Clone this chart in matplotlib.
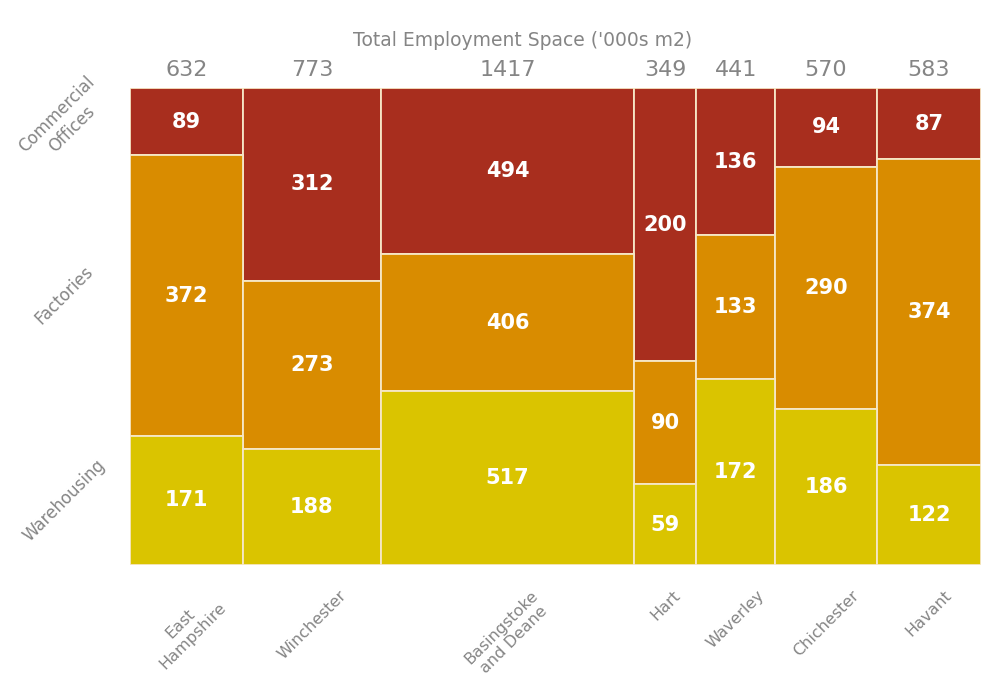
import numpy as np
import matplotlib.pyplot as plt

# employment floorspace by district, '000s m2
districts = ['East\nHampshire', 'Winchester', 'Basingstoke\nand Deane', 'Hart',
             'Waverley', 'Chichester', 'Havant']
offices = [89, 312, 494, 200, 136, 94, 87]
factories = [372, 273, 406, 90, 133, 290, 374]
warehousing = [171, 188, 517, 59, 172, 186, 122]
totals = [632, 773, 1417, 349, 441, 570, 583]

layers = ['Commercial\nOffices', 'Factories', 'Warehousing']
colors = ['#A82E1E', '#D98C00', '#DAC400']
grey = '#858585'

values = np.array([offices, factories, warehousing], dtype=float)
widths = np.array(totals, dtype=float)
lefts = np.concatenate([[0], np.cumsum(widths)[:-1]])
centers = lefts + widths / 2
shares = values / widths

fig = plt.figure(figsize=(9.82, 6.81), dpi=100)
ax = fig.add_axes([0.1324, 0.1703, 0.8666, 0.7005])

# stack from the top: offices first, warehousing at the bottom
top = np.ones(len(totals))
for i in range(3):
    bottom = top - shares[i]
    ax.bar(lefts, shares[i], width=widths, bottom=bottom, align='edge',
           color=colors[i], edgecolor='#F6E7C6', linewidth=1.3)
    for j in range(len(totals)):
        ax.text(centers[j], bottom[j] + shares[i][j] / 2, f'{int(values[i][j])}',
                ha='center', va='center', color='white', fontsize=15,
                fontweight='bold')
    # row labels on the left, next to the first column
    ax.text(-0.077, bottom[0] + shares[i][0] / 2, layers[i],
            transform=ax.get_yaxis_transform(), rotation=45, ha='center',
            va='center', color=grey, fontsize=12, multialignment='center')
    top = bottom

for j in range(len(totals)):
    ax.text(centers[j], 1.016, f'{totals[j]}', ha='center', va='bottom',
            color=grey, fontsize=16, transform=ax.get_xaxis_transform())
    ax.text(centers[j], -0.048, districts[j], ha='center', va='top',
            rotation=45, color=grey, fontsize=11.5, multialignment='center',
            linespacing=1.2, transform=ax.get_xaxis_transform())

ax.set_xlim(0, widths.sum())
ax.set_ylim(0, 1)
ax.axis('off')

fig.text(0.5325, 0.94, "Total Employment Space ('000s m2)", ha='center',
         va='center', color=grey, fontsize=13.5)

fig.savefig('out.png', dpi=100)
